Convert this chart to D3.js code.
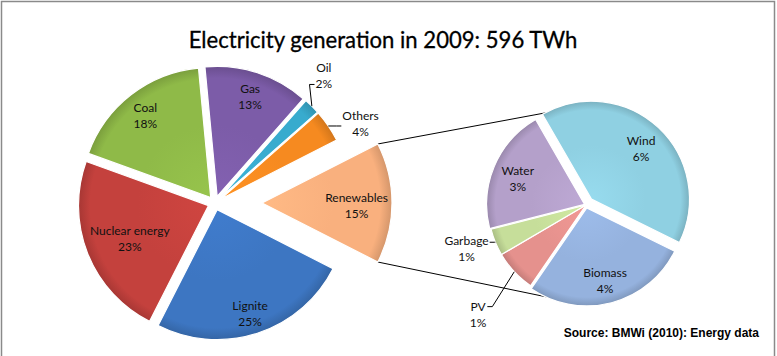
<!DOCTYPE html>
<html>
<head>
<meta charset="utf-8">
<script src="https://cdn.jsdelivr.net/npm/d3@7"></script>
<style>
  html, body { margin: 0; padding: 0; background: #fff; }
  svg { display: block; }
</style>
</head>
<body>
<svg id="chart" width="777" height="356"></svg>
<script>
// ---- data ----
const titleText = "Electricity generation in 2009: 596 TWh";
const sourceText = "Source: BMWi (2010): Energy data";

const mainNames  = ["Renewables", "Lignite", "Nuclear energy", "Coal", "Gas", "Oil", "Others"];
const mainValues = [15, 25, 23, 18, 13, 2, 4];
const mainLabels = ["15%", "25%", "23%", "18%", "13%", "2%", "4%"];
const mainColors = ["#F9B07E", "#3D76C2", "#C4413D", "#8FBA48", "#7C5CA8", "#38ABCE", "#F68A20"];

const subNames  = ["Wind", "Biomass", "PV", "Garbage", "Water"];
const subValues = [6.1, 4.1, 1.05, 0.67, 3.1];
const subLabels = ["6%", "4%", "1%", "1%", "3%"];
const subColors = ["#8FD0E2", "#95B2DE", "#E5918D", "#C6DE9A", "#B4A0CA"];

// ---- layout ----
const W = 777, H = 356;
const main = { cx: 215, cy: 203, r: 130, labelT: 0.82 };
const sub  = { cx: 586, cy: 205, r: 98,  labelT: 0.74 };
const mainExplode = { "Renewables": 47 };
const mainExplodeDefault = 7;
const subExplode = { "Wind": 8, "Biomass": 3, "Water": 1.5 };
// labels placed outside with leader lines: radius factor and angle shift (deg)
const outside = {
  "Oil":     { k: 1.23, da: -4.5 },
  "Others":  { k: 1.22, da: 6 },
  "Garbage": { k: 1.30, da: 2 },
  "PV":      { k: 1.57, da: -2.5 }
};
const FONT = "Lato, 'Open Sans', sans-serif";
const LINE = 16;

const svg = d3.select("#chart");
const defs = svg.append("defs");

// border
svg.append("rect").attr("x", 1.5).attr("y", 1.5).attr("width", 773).attr("height", 362)
  .attr("fill", "none").attr("stroke", "#8a8a8a").attr("stroke-width", 1.5);

// title
const title = svg.append("text").text(titleText)
  .attr("x", 383).attr("y", 48).attr("text-anchor", "middle")
  .attr("font-family", FONT).attr("font-size", 21).attr("fill", "#000")
  .attr("stroke", "#000").attr("stroke-width", 0.3);
{
  const len = title.node().getComputedTextLength();
  title.attr("font-size", 21 * 389 / len);
}

// source
svg.append("text").text(sourceText)
  .attr("x", 759).attr("y", 337).attr("text-anchor", "end")
  .attr("font-family", "'Liberation Sans', Arial, sans-serif").attr("font-weight", "bold")
  .attr("font-size", 12).attr("fill", "#000");

const toXY = (a, t) => [Math.sin(a) * t, -Math.cos(a) * t];

// pies
const total = d3.sum(mainValues);
const mainStart = Math.PI / 2 - Math.PI * mainValues[0] / total;
const mainPie = d3.pie().sort(null).startAngle(mainStart).endAngle(mainStart + 2 * Math.PI);
const mainArcs = mainPie(mainValues).map((d, i) => {
  const mid = (d.startAngle + d.endAngle) / 2;
  const e = mainExplode[mainNames[i]] ?? mainExplodeDefault;
  const [ox, oy] = toXY(mid, e);
  return { ...d, i, name: mainNames[i], label: mainLabels[i], color: mainColors[i],
           mid, ax: main.cx + ox, ay: main.cy + oy, R: main.r, T: main.labelT };
});

const subStart = -Math.PI / 6;
const subPie = d3.pie().sort(null).startAngle(subStart).endAngle(subStart + 2 * Math.PI);
const subArcs = subPie(subValues).map((d, i) => {
  const mid = (d.startAngle + d.endAngle) / 2;
  const e = subExplode[subNames[i]] ?? 0;
  const [ox, oy] = toXY(mid, e);
  return { ...d, i, name: subNames[i], label: subLabels[i], color: subColors[i],
           mid, ax: sub.cx + ox, ay: sub.cy + oy, R: sub.r, T: sub.labelT };
});

// connector lines (tangents from renewables corners to second pie)
{
  const ren = mainArcs[0];
  const corners = [ren.startAngle, ren.endAngle].map(a => {
    const [x, y] = toXY(a, main.r);
    return [ren.ax + x, ren.ay + y];
  });
  corners.forEach((P, k) => {
    const dx = P[0] - sub.cx, dy = P[1] - sub.cy;
    const d = Math.hypot(dx, dy);
    const th = Math.atan2(dy, dx);
    const al = Math.acos(sub.r / d);
    const cands = [th + al, th - al].map(a => [sub.cx + sub.r * Math.cos(a), sub.cy + sub.r * Math.sin(a)]);
    const T = k === 0 ? (cands[0][1] < cands[1][1] ? cands[0] : cands[1])
                      : (cands[0][1] > cands[1][1] ? cands[0] : cands[1]);
    svg.append("line").attr("x1", P[0]).attr("y1", P[1]).attr("x2", T[0]).attr("y2", T[1])
      .attr("stroke", "#000").attr("stroke-width", 1);
  });
}

function drawPie(arcs, prefix) {
  const arcGen = d3.arc().innerRadius(0);
  const g = svg.append("g");
  arcs.forEach(d => {
    const id = prefix + d.i;
    const c = d3.color(d.color);
    // gradient in the path's local (translated) coordinates: centre at 0,0
    const gr = defs.append("radialGradient").attr("id", id)
      .attr("gradientUnits", "userSpaceOnUse")
      .attr("cx", 0).attr("cy", 0).attr("r", d.R)
      .attr("fx", 0).attr("fy", 0);
    gr.append("stop").attr("offset", "0%").attr("stop-color", c.brighter(0.15).formatHex());
    gr.append("stop").attr("offset", "55%").attr("stop-color", c.formatHex());
    gr.append("stop").attr("offset", "91%").attr("stop-color", c.formatHex());
    gr.append("stop").attr("offset", "100%").attr("stop-color", c.darker(0.45).formatHex());
    g.append("path")
      .attr("transform", `translate(${d.ax},${d.ay})`)
      .attr("d", arcGen.outerRadius(d.R)(d))
      .attr("fill", `url(#${id})`)
      .attr("stroke", "#fff").attr("stroke-width", 1.2).attr("stroke-linejoin", "round");
  });
}
drawPie(mainArcs, "gm");
drawPie(subArcs, "gs");

function drawLabels(arcs) {
  arcs.forEach(d => {
    const t = svg.append("text").attr("font-family", FONT).attr("font-size", 12)
      .attr("fill", "#111").attr("text-anchor", "middle");
    const l1 = t.append("tspan").text(d.name);
    const l2 = t.append("tspan").text(d.label);
    const w = Math.max(l1.node().getComputedTextLength(), l2.node().getComputedTextLength());
    const h = 2 * LINE;
    let cx, cy, base;
    const o = outside[d.name];
    if (o) {
      const a = d.mid + o.da * Math.PI / 180;
      const [x, y] = toXY(a, d.R * o.k);
      cx = d.ax + x; cy = d.ay + y; base = 4;
    } else {
      let tt = d.R * d.T;
      const fits = tt2 => {
        const [x, y] = toXY(d.mid, tt2);
        for (const sx of [-1, 1]) for (const sy of [-1, 1]) {
          if (Math.hypot(x + sx * w / 2, y + sy * (h / 2 - 2)) > d.R - 3) return false;
        }
        return true;
      };
      while (tt > 10 && !fits(tt)) tt -= 1;
      const [x, y] = toXY(d.mid, tt);
      cx = d.ax + x; cy = d.ay + y; base = 6.5;
    }
    const y1 = cy - LINE / 2, y2 = cy + LINE / 2;
    l1.attr("x", cx).attr("y", y1 + base);
    l2.attr("x", cx).attr("y", y2 + base);
    if (o) {
      const [px, py] = toXY(d.mid, d.R);
      const P = [d.ax + px, d.ay + py];
      const side = P[0] > cx ? 1 : -1;
      const ex = cx + side * (w / 2 + 1);
      const ey = Math.max(y1, Math.min(y2, P[1]));
      const elbow = [ex + side * 5, ey];
      svg.append("path")
        .attr("d", d3.line()([P, elbow, [ex, ey]]))
        .attr("fill", "none").attr("stroke", "#000").attr("stroke-width", 1);
    }
  });
}
drawLabels(mainArcs);
drawLabels(subArcs);
</script>
</body>
</html>
